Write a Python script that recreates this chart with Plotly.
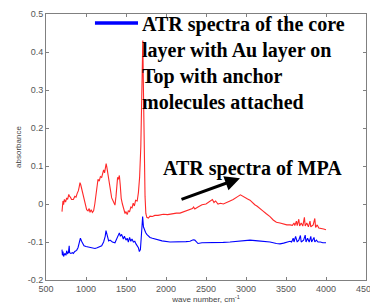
import plotly.graph_objects as go

# Red spectrum (MPA)
red_x = [700,705,712,720,730,745,758,770,785,795,805,820,842,860,875,890,905,915,925,935,950,966,985,1008,1025,1040,1050,1065,1080,1095,1110,1125,1140,1150,1165,1180,1196,1210,1220,1232,1242,1252,1262,1275,1290,1305,1321,1335,1350,1362,1375,1385,1395,1405,1417,1428,1440,1455,1470,1488,1500,1515,1529,1545,1560,1575,1590,1605,1620,1640,1655,1670,1685,1700,1710,1718,1728,1738,1748,1760,1780,1800,1830,1860,1900,1967,2020,2080,2130,2175,2230,2280,2330,2345,2360,2400,2450,2500,2530,2560,2580,2600,2620,2650,2680,2717,2760,2800,2840,2870,2900,2930,2960,2990,3020,3050,3080,3110,3140,3175,3210,3250,3300,3340,3380,3425,3470,3510,3550,3580,3600,3610,3630,3640,3660,3670,3690,3710,3730,3740,3760,3780,3800,3810,3840,3860,3870,3890,3910,3940,3970,4000]
red_y = [-0.02,0.0,0.008,-0.002,0.012,0.005,0.016,0.012,0.025,0.02,0.018,0.012,0.012,0.02,0.018,0.028,0.035,0.045,0.056,0.05,0.035,0.02,0.0,-0.015,-0.018,-0.012,-0.022,-0.015,-0.022,-0.018,0.0,0.02,0.045,0.065,0.06,0.072,0.07,0.085,0.09,0.082,0.098,0.106,0.095,0.078,0.05,0.03,0.016,0.01,0.0,-0.003,0.02,0.055,0.07,0.065,0.075,0.05,0.015,0.0,-0.015,-0.025,-0.02,-0.028,-0.018,-0.02,-0.008,-0.01,0.002,-0.005,0.01,0.008,0.03,0.07,0.15,0.33,0.43,0.3,0.12,0.02,-0.025,-0.035,-0.037,-0.032,-0.033,-0.03,-0.03,-0.027,-0.028,-0.025,-0.024,-0.024,-0.02,-0.016,-0.012,-0.008,-0.013,-0.008,-0.002,0.0,0.005,0.01,0.012,0.004,0.008,0.0,0.002,0.0,0.005,0.008,0.012,0.017,0.02,0.024,0.02,0.015,0.013,0.01,0.003,-0.002,-0.006,-0.011,-0.018,-0.025,-0.033,-0.042,-0.048,-0.05,-0.053,-0.055,-0.055,-0.056,-0.05,-0.057,-0.045,-0.057,-0.04,-0.058,-0.05,-0.058,-0.035,-0.058,-0.05,-0.06,-0.045,-0.06,-0.055,-0.038,-0.062,-0.055,-0.063,-0.064,-0.066,-0.068]

# Blue spectrum (core layer with Au layer and anchor molecules)
blue_x = [700,705,712,720,735,750,758,770,780,790,795,810,830,842,860,883,900,915,930,945,960,975,1000,1025,1050,1080,1112,1140,1170,1196,1220,1240,1250,1262,1283,1300,1330,1362,1385,1400,1417,1430,1445,1467,1480,1500,1515,1529,1545,1560,1575,1592,1610,1625,1640,1655,1667,1680,1690,1700,1708,1718,1730,1745,1760,1779,1800,1830,1883,1950,2050,2150,2250,2300,2340,2360,2400,2450,2550,2650,2717,2800,2900,3008,3050,3150,3250,3300,3380,3425,3470,3510,3550,3570,3590,3600,3620,3640,3660,3680,3690,3720,3740,3750,3770,3790,3810,3820,3850,3860,3880,3900,3930,3960,4000]
blue_y = [-0.12,-0.135,-0.125,-0.138,-0.13,-0.135,-0.123,-0.13,-0.128,-0.11,-0.128,-0.13,-0.128,-0.13,-0.125,-0.122,-0.115,-0.1,-0.09,-0.098,-0.105,-0.11,-0.112,-0.113,-0.115,-0.115,-0.117,-0.115,-0.112,-0.11,-0.1,-0.085,-0.07,-0.082,-0.097,-0.095,-0.1,-0.102,-0.09,-0.08,-0.076,-0.085,-0.08,-0.092,-0.085,-0.095,-0.09,-0.1,-0.088,-0.098,-0.092,-0.1,-0.098,-0.105,-0.11,-0.115,-0.125,-0.12,-0.09,-0.045,-0.033,-0.06,-0.07,-0.075,-0.08,-0.085,-0.088,-0.09,-0.093,-0.097,-0.1,-0.1,-0.099,-0.098,-0.094,-0.095,-0.104,-0.102,-0.102,-0.102,-0.101,-0.1,-0.098,-0.096,-0.095,-0.097,-0.099,-0.1,-0.104,-0.105,-0.103,-0.1,-0.098,-0.1,-0.09,-0.1,-0.085,-0.1,-0.095,-0.083,-0.1,-0.095,-0.082,-0.1,-0.09,-0.1,-0.085,-0.1,-0.088,-0.1,-0.095,-0.1,-0.1,-0.102,-0.102]

x_ticks = [500,1000,1500,2000,2500,3000,3500,4000,4500]
y_ticks = [-0.2,-0.1,0,0.1,0.2,0.3,0.4,0.5]
y_ticklabels = ["-0.2","-0.1","0","0.1","0.2","0.3","0.4","0.5"]

legend_text = "ATR spectra of the core<br>layer with Au layer on<br>Top with anchor<br>molecules attached"
mpa_text = "ATR spectra of MPA"

fig = go.Figure()
fig.add_trace(go.Scatter(x=red_x, y=red_y, mode="lines",
                         line=dict(color="#ff2828", width=1.1), showlegend=False))
fig.add_trace(go.Scatter(x=blue_x, y=blue_y, mode="lines",
                         line=dict(color="#0000ff", width=1.1), showlegend=False))

axis_common = dict(showline=True, linecolor="#808080", linewidth=1, mirror="ticks",
                   ticks="inside", ticklen=3, tickcolor="#808080", showgrid=False,
                   zeroline=False, automargin=False, ticklabeloverflow="allow",
                   tickfont=dict(family="Liberation Sans, Arial", size=9, color="#555555"))

fig.update_xaxes(range=[500, 4500], tickvals=x_ticks,
                 title=dict(text="wave number, cm<sup>-1</sup>", standoff=2,
                            font=dict(family="Liberation Sans, Arial", size=8, color="#444444")),
                 **axis_common)
fig.update_yaxes(range=[-0.2, 0.5], tickvals=y_ticks, ticktext=y_ticklabels,
                 title=dict(text="absorbance", standoff=4,
                            font=dict(family="Liberation Sans, Arial", size=8, color="#444444")),
                 **axis_common)

# legend-like blue line
fig.add_shape(type="line", xref="paper", yref="paper",
              x0=0.153, x1=0.2875, y0=0.966, y1=0.966,
              line=dict(color="#0000ff", width=3.5))

fig.add_annotation(xref="paper", yref="paper", x=0.294, y=1.01,
                   xanchor="left", yanchor="top", align="left", showarrow=False,
                   text="<b>" + legend_text + "</b>",
                   font=dict(family="Liberation Serif, Times New Roman", size=20, color="black"))

fig.add_annotation(xref="paper", yref="paper", x=0.36, y=0.421,
                   xanchor="left", yanchor="middle", showarrow=False,
                   text="<b>" + mpa_text + "</b>",
                   font=dict(family="Liberation Serif, Times New Roman", size=20, color="black"))

# arrow
fig.add_annotation(x=2925, y=0.068, ax=2175, ay=0.0105, xref="x", yref="y",
                   axref="x", ayref="y", text="", showarrow=True,
                   arrowhead=2, arrowsize=1, arrowwidth=3, arrowcolor="black")

fig.update_layout(width=370, height=307, margin=dict(l=46, r=4, t=14, b=27),
                  paper_bgcolor="white", plot_bgcolor="white")

fig.write_html("out.html", config={"displayModeBar": False},
               post_script="document.body.style.margin='0px';")
